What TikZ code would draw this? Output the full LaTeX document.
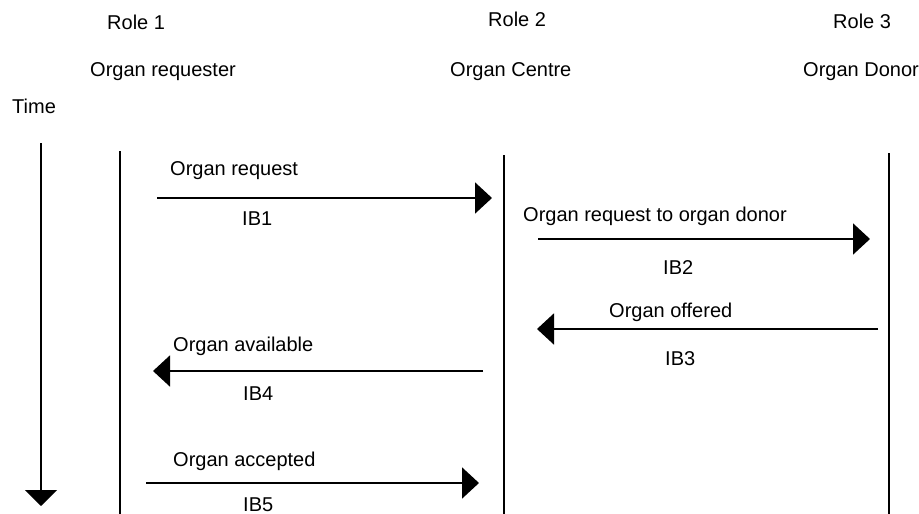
\documentclass[tikz,border=0pt]{standalone}
\usepackage{fontspec}
\setmainfont{Liberation Sans}
\usetikzlibrary{arrows.meta}
\begin{document}
\begin{tikzpicture}[x=1pt,y=-1pt,
  txt/.style={anchor=base west,inner sep=0pt,font=\fontsize{20}{24}\selectfont},
  life/.style={line width=2pt},
  msg/.style={line width=2pt,-{Triangle[length=17pt,width=31pt]}},
  timeline/.style={line width=2pt,-{Triangle[length=16pt,width=32pt]}}]
\useasboundingbox (0,0) rectangle (919,514);

% role headers
\node[txt] (r1) at (107,29) {Role 1};
\node[txt] (r1n) at (90,76) {Organ requester};
\node[txt] (r2) at (488,26) {Role 2};
\node[txt] (r2n) at (450,76) {Organ Centre};
\node[txt] (r3) at (833,28) {Role 3};
\node[txt] (r3n) at (803,76) {Organ Donor};
\node[txt] (time) at (12,113) {Time};

% time axis
\coordinate (t0) at (41,143);
\coordinate (t1) at (41,506);
\draw[timeline] (t0) -- (t1);

% lifelines
\coordinate (l1a) at (120,151);
\coordinate (l1b) at (120,514);
\coordinate (l2a) at (504,155);
\coordinate (l2b) at (504,514);
\coordinate (l3a) at (889,153);
\coordinate (l3b) at (889,514);
\draw[life] (l1a) -- (l1b);
\draw[life] (l2a) -- (l2b);
\draw[life] (l3a) -- (l3b);

% messages
\coordinate (m1s) at (157,198);
\coordinate (m1e) at (492,198);
\draw[msg] (m1s) -- (m1e);
\node[txt] (m1t) at (170,175) {Organ request};
\node[txt] (m1b) at (242,225) {IB1};

\coordinate (m2s) at (538,239);
\coordinate (m2e) at (870,239);
\draw[msg] (m2s) -- (m2e);
\node[txt] (m2t) at (523,221) {Organ request to organ donor};
\node[txt] (m2b) at (663,274) {IB2};

\coordinate (m3s) at (878,329);
\coordinate (m3e) at (537,329);
\draw[msg] (m3s) -- (m3e);
\node[txt] (m3t) at (609,317) {Organ offered};
\node[txt] (m3b) at (665,365) {IB3};

\coordinate (m4s) at (483,371);
\coordinate (m4e) at (153,371);
\draw[msg] (m4s) -- (m4e);
\node[txt] (m4t) at (173,351) {Organ available};
\node[txt] (m4b) at (243,400) {IB4};

\coordinate (m5s) at (146,483);
\coordinate (m5e) at (479,483);
\draw[msg] (m5s) -- (m5e);
\node[txt] (m5t) at (173,466) {Organ accepted};
\node[txt] (m5b) at (243,511) {IB5};
\end{tikzpicture}
\end{document}
